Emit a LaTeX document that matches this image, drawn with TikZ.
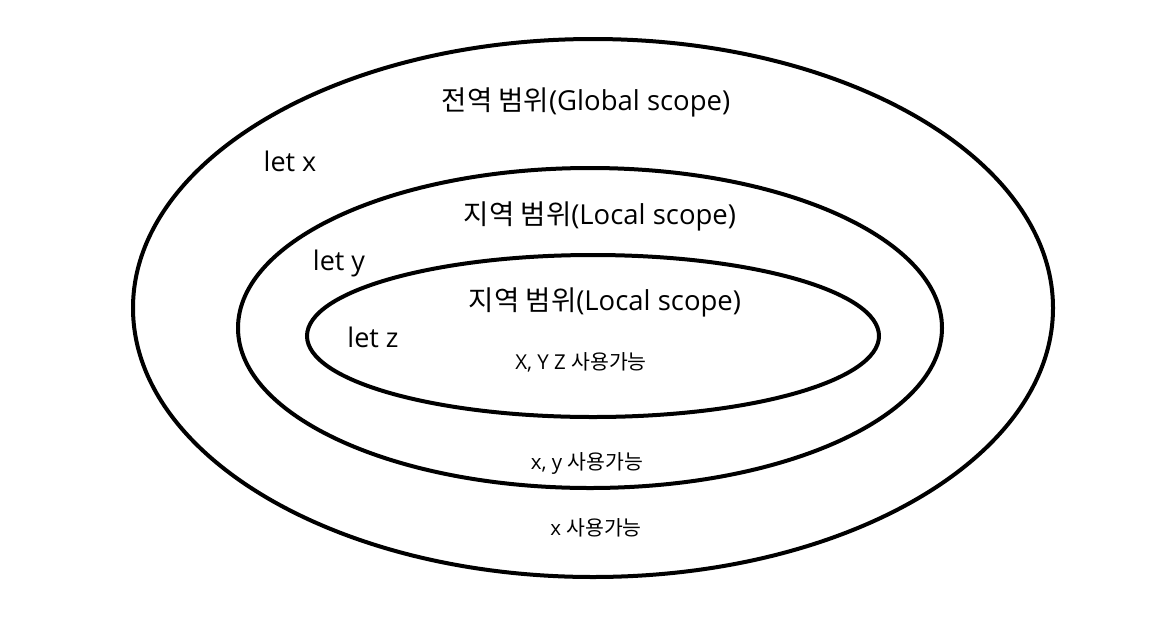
\documentclass[tikz,border=0pt]{standalone}
\usepackage{fontspec}
\setmainfont{Open Sans}
\newfontfamily\kr{Noto Sans CJK KR}
\begin{document}
\begin{tikzpicture}[x=1pt,y=-1pt,
  ring/.style={line width=4pt},
  big/.style={font=\fontsize{27.5}{30}\selectfont, inner sep=0pt},
  mid/.style={font=\fontsize{27}{30}\selectfont, inner sep=0pt},
  small/.style={font=\fontsize{20.5}{23}\selectfont, inner sep=0pt}]
\useasboundingbox[fill=white] (0,0) rectangle (1167,622);
\draw[ring] (593,308) ellipse [x radius=460, y radius=269];
\draw[ring] (590,328) ellipse [x radius=352, y radius=160];
\draw[ring] (593,336) ellipse [x radius=286, y radius=81];
\node[big] (g) at (586,102) {{\kr 전역 범위}(Global scope)};
\node[mid] (lx) at (290,161) {let x};
\node[big] (l1) at (600,216) {{\kr 지역 범위}(Local scope)};
\node[mid] (ly) at (339,263) {let y};
\node[big] (l2) at (605,302) {{\kr 지역 범위}(Local scope)};
\node[mid] (lz) at (373,337) {let z};
\node[small] (u3) at (581,362) {X, Y Z {\kr 사용가능}};
\node[small] (u2) at (587,463) {x, y {\kr 사용가능}};
\node[small] (u1) at (596,528) {x {\kr 사용가능}};
\end{tikzpicture}
\end{document}
